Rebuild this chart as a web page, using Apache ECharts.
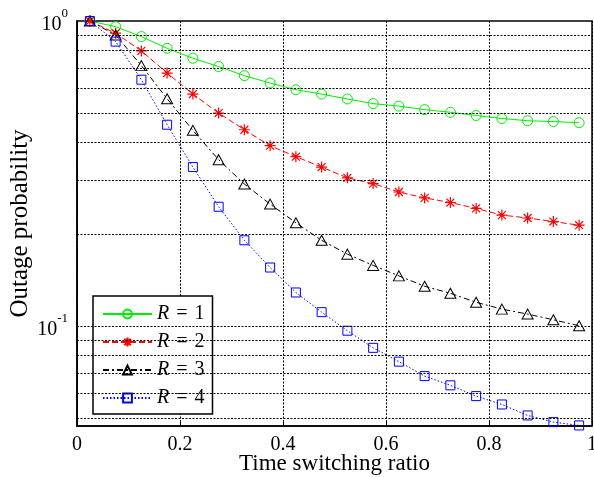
<!DOCTYPE html>
<html>
<head>
<meta charset="utf-8">
<script src="https://cdn.jsdelivr.net/npm/echarts@6/dist/echarts.min.js"></script>
<style>
html,body{margin:0;padding:0;background:#fff;}
#chart{width:594px;height:477px;}
</style>
</head>
<body>
<div id="chart"></div>
<script>
const xValues = [0.025,0.075,0.125,0.175,0.225,0.275,0.325,0.375,0.425,0.475,0.525,0.575,0.625,0.675,0.725,0.775,0.825,0.875,0.925,0.975];
const r1 = [1.0,0.958,0.889,0.814,0.755,0.709,0.662,0.626,0.595,0.576,0.555,0.536,0.526,0.512,0.502,0.490,0.479,0.471,0.468,0.464];
const r2 = [1.0,0.912,0.798,0.675,0.576,0.499,0.440,0.390,0.359,0.332,0.306,0.293,0.275,0.263,0.254,0.243,0.231,0.226,0.220,0.214];
const r3 = [1.0,0.900,0.714,0.556,0.438,0.351,0.292,0.251,0.218,0.191,0.172,0.158,0.146,0.135,0.128,0.1196,0.1136,0.1094,0.1048,0.1002];
const r4 = [1.0,0.856,0.642,0.457,0.332,0.246,0.191,0.1555,0.1288,0.111,0.0965,0.0848,0.0764,0.0685,0.0639,0.0589,0.0553,0.0509,0.0484,0.0472];
const seriesNames = ['R = 1','R = 2','R = 3','R = 4'];
const yGridValues = [0.05,0.06,0.07,0.08,0.09,0.1,0.2,0.3,0.4,0.5,0.6,0.7,0.8,0.9];

const FONT = 'Liberation Serif';
const pairs = (ys) => xValues.map((x,i)=>[x, ys[i]]);
const starPath = 'path://M0,-5L0,5M-5,0L5,0M-3.6,-3.6L3.6,3.6M-3.6,3.6L3.6,-3.6';

const chart = echarts.init(document.getElementById('chart'));
chart.setOption({
  animation:false,
  backgroundColor:'#fff',
  grid:{left:77, right:2, top:21, bottom:51, show:true, borderColor:'#000', borderWidth:1.5,
    backgroundColor:'transparent', containLabel:false, outerBoundsMode:'none'},
  xAxis:{
    type:'value', min:0, max:1, interval:0.2,
    name:'Time switching ratio', nameLocation:'middle', nameGap:26, nameMoveOverlap:false,
    nameTextStyle:{fontFamily:FONT, fontSize:23, color:'#000'},
    axisLine:{show:true, lineStyle:{color:'#000', width:1.5}},
    axisTick:{show:true, inside:true, length:5, lineStyle:{color:'#000'}},
    axisLabel:{fontFamily:FONT, fontSize:20, color:'#000', margin:9,
      formatter:(v)=> String(Math.round(v*10)/10)},
    splitLine:{show:true, lineStyle:{color:'#000', type:[2,1.5], width:1}}
  },
  yAxis:{
    type:'log', logBase:10, min:0.047, max:1,
    name:'Outage probability', nameLocation:'middle', nameGap:44, nameMoveOverlap:false,
    nameTextStyle:{fontFamily:FONT, fontSize:25, color:'#000'},
    axisLine:{show:true, lineStyle:{color:'#000', width:1.5}},
    axisTick:{show:false},
    splitLine:{show:false},
    axisLabel:{
      margin:9, color:'#000',
      formatter:(v)=>{
        if (Math.abs(v-1)<1e-6) return '{b|10}{s|0}';
        if (Math.abs(v-0.1)<1e-7) return '{b|10}{s|-1}';
        return '';
      },
      rich:{
        b:{fontFamily:FONT, fontSize:20, color:'#000', lineHeight:28, verticalAlign:'bottom'},
        s:{fontFamily:FONT, fontSize:13, color:'#000', lineHeight:28, verticalAlign:'top'}
      }
    }
  },
  legend:{
    orient:'vertical', left:93, top:296,
    data:seriesNames,
    backgroundColor:'#fff', borderColor:'#000', borderWidth:1.5,
    padding:[8,8,6,9],
    itemWidth:49, itemHeight:11, itemGap:8,
    formatter:(n)=>'{i|R}{e|=}{t|' + n.slice(4) + '}',
    textStyle:{fontFamily:FONT, fontSize:20, color:'#000',
      rich:{
        i:{fontFamily:FONT, fontSize:20, fontStyle:'italic', color:'#000'},
        e:{fontFamily:FONT, fontSize:20, color:'#000', padding:[0,7,0,7]},
        t:{fontFamily:FONT, fontSize:20, color:'#000'}
      }
    }
  },
  series:[
    {
      type:'line', data:[], silent:true, z:1,
      markLine:{silent:true, symbol:'none', label:{show:false}, animation:false,
        lineStyle:{color:'#000', type:[2,1.5], width:1},
        data:yGridValues.map(v=>({yAxis:v}))}
    },
    {
      name:seriesNames[0], type:'line', data:pairs(r1), z:3,
      symbol:'circle', symbolSize:10,
      lineStyle:{color:'#00ee00', width:1, type:'solid'},
      itemStyle:{color:'rgba(0,0,0,0)', borderColor:'#00ee00', borderWidth:1}
    },
    {
      name:seriesNames[1], type:'line', data:pairs(r2), z:3,
      symbol:starPath, symbolSize:11,
      lineStyle:{color:'#ff0000', width:1, type:[6,3]},
      itemStyle:{color:'#ff0000', borderColor:'#ff0000', borderWidth:1.2}
    },
    {
      name:seriesNames[2], type:'line', data:pairs(r3), z:3,
      symbol:'triangle', symbolSize:[11,10],
      lineStyle:{color:'#000', width:1, type:[6,3,2,3]},
      itemStyle:{color:'rgba(0,0,0,0)', borderColor:'#000', borderWidth:1}
    },
    {
      name:seriesNames[3], type:'line', data:pairs(r4), z:3,
      symbol:'rect', symbolSize:9,
      lineStyle:{color:'#0000ff', width:1, type:[1.5,2]},
      itemStyle:{color:'rgba(0,0,0,0)', borderColor:'#0000ff', borderWidth:1}
    }
  ]
});
</script>
</body>
</html>
